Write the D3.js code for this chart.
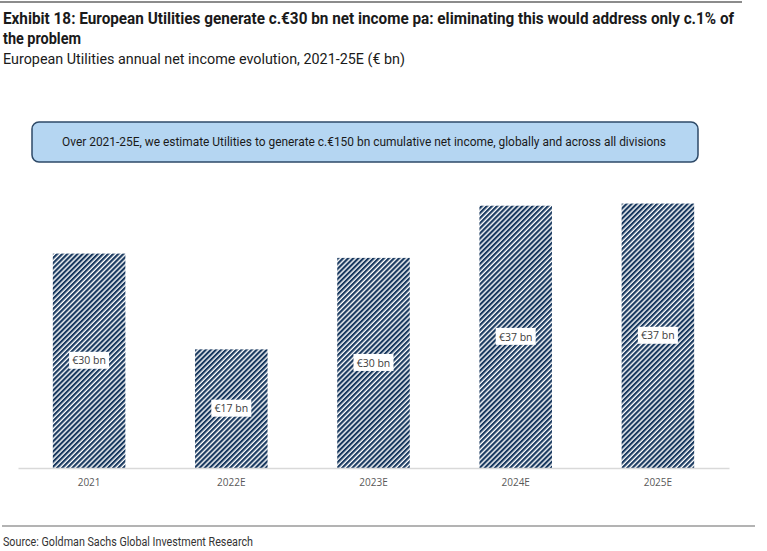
<!DOCTYPE html>
<html>
<head>
<meta charset="utf-8">
<script src="https://cdn.jsdelivr.net/npm/d3@7"></script>
<style>
  body { margin: 0; background: #fff; }
  .cond { font-family: "Roboto", "Liberation Sans", sans-serif; }
</style>
</head>
<body>
<div class="chart"></div>
<script>
// data
const years = ["2021", "2022E", "2023E", "2024E", "2025E"];
const netIncome = [30.0, 16.6, 29.4, 36.7, 37.0];
const barLabels = ["€30 bn", "€17 bn", "€30 bn", "€37 bn", "€37 bn"];

const title1 = "Exhibit 18: European Utilities generate c.€30 bn net income pa: eliminating this would address only c.1% of";
const title2 = "the problem";
const subtitle = "European Utilities annual net income evolution, 2021-25E (€ bn)";
const callout = "Over 2021-25E, we estimate Utilities to generate c.€150 bn cumulative net income, globally and across all divisions";
const source = "Source: Goldman Sachs Global Investment Research";

const W = 767, H = 551;
const margin = ({top: 200, right: 38, bottom: 83, left: 18});
const width = W - margin.left - margin.right;
const height = H - margin.top - margin.bottom;

const svg = d3.select('.chart').append('svg')
    .attr("width", W)
    .attr("height", H);

// hatch pattern
const defs = svg.append("defs");
const pat = defs.append("pattern")
    .attr("id", "hatch")
    .attr("patternUnits", "userSpaceOnUse")
    .attr("width", 3.6)
    .attr("height", 3.6)
    .attr("patternTransform", "rotate(45)");
pat.append("rect").attr("width", 3.6).attr("height", 3.6).attr("fill", "#ffffff");
pat.append("rect").attr("width", 2.2).attr("height", 3.6).attr("fill", "#19395f");

// squeezed text, to get the narrow look of the original
function condText(x, y, size, weight, len, str, anchor) {
  return svg.append("text").attr("class", "cond")
    .attr("x", x).attr("y", y)
    .attr("font-size", size + "px")
    .attr("font-weight", weight)
    .attr("fill", "#1a1a1a")
    .attr("text-anchor", anchor || "start")
    .attr("textLength", len)
    .attr("lengthAdjust", "spacingAndGlyphs")
    .text(str);
}

// header rules
svg.append("line")
    .attr("x1", 0).attr("x2", 742).attr("y1", 2).attr("y2", 2)
    .attr("stroke", "#8c8c8c").attr("stroke-width", 2);

condText(3, 24, 16, "bold", 731, title1);
condText(3, 44, 16, "bold", 78, title2);
condText(3, 64, 14, "normal", 402, subtitle);

// callout box
svg.append("rect")
    .attr("x", 32).attr("y", 122)
    .attr("width", 666).attr("height", 40)
    .attr("rx", 7)
    .attr("fill", "#b5d6f2")
    .attr("stroke", "#2e4a68")
    .attr("stroke-width", 1.5);
condText(364, 146, 13, "normal", 604, callout, "middle");

const g = svg.append("g")
    .attr("transform", "translate(" + margin.left + "," + margin.top + ")");

const xScale = d3.scaleBand()
    .domain(years)
    .range([0, width])
    .paddingInner(0.49)
    .paddingOuter(0.245);

const yScale = d3.scaleLinear()
    .domain([0, 37.5])
    .range([height, height - 268]);

const xAxis = d3.axisBottom(xScale).tickSize(0).tickPadding(11);

g.selectAll(".bar")
    .data(years)
    .enter()
    .append("rect")
    .attr("class", "bar")
    .attr("x", d => xScale(d))
    .attr("y", (d, i) => yScale(netIncome[i]))
    .attr("width", xScale.bandwidth())
    .attr("height", (d, i) => yScale(0) - yScale(netIncome[i]))
    .attr("fill", "url(#hatch)");

g.append("g")
    .attr("class", "axis x-axis")
    .attr("transform", `translate(0,${height})`)
    .call(xAxis)
    .call(a => a.select(".domain").attr("stroke", "#d9d9d9").attr("stroke-width", 1.5))
    .call(a => a.selectAll("text")
        .attr("font-family", "'Open Sans', 'Liberation Sans', sans-serif")
        .attr("font-size", "10px")
        .attr("fill", "#595959"));

// value labels with white boxes
const lab = g.selectAll(".lab")
    .data(years)
    .enter()
    .append("g")
    .attr("class", "lab")
    .attr("transform", (d, i) => `translate(${xScale(d) + xScale.bandwidth() / 2},${(yScale(netIncome[i]) + yScale(0)) / 2})`);

lab.append("rect")
    .attr("x", -20).attr("y", -9)
    .attr("width", 40).attr("height", 17)
    .attr("fill", "#fff");

lab.append("text")
    .attr("text-anchor", "middle")
    .attr("dy", "0.35em")
    .attr("font-family", "'Open Sans', 'Liberation Sans', sans-serif")
    .attr("font-size", "10.5px")
    .attr("fill", "#404040")
    .text((d, i) => barLabels[i]);

// footer
svg.append("line")
    .attr("x1", 2).attr("x2", 755).attr("y1", 526).attr("y2", 526)
    .attr("stroke", "#9a9a9a").attr("stroke-width", 1.5);
condText(3, 546, 12, "normal", 250, source).attr("fill", "#333");
</script>
</body>
</html>
